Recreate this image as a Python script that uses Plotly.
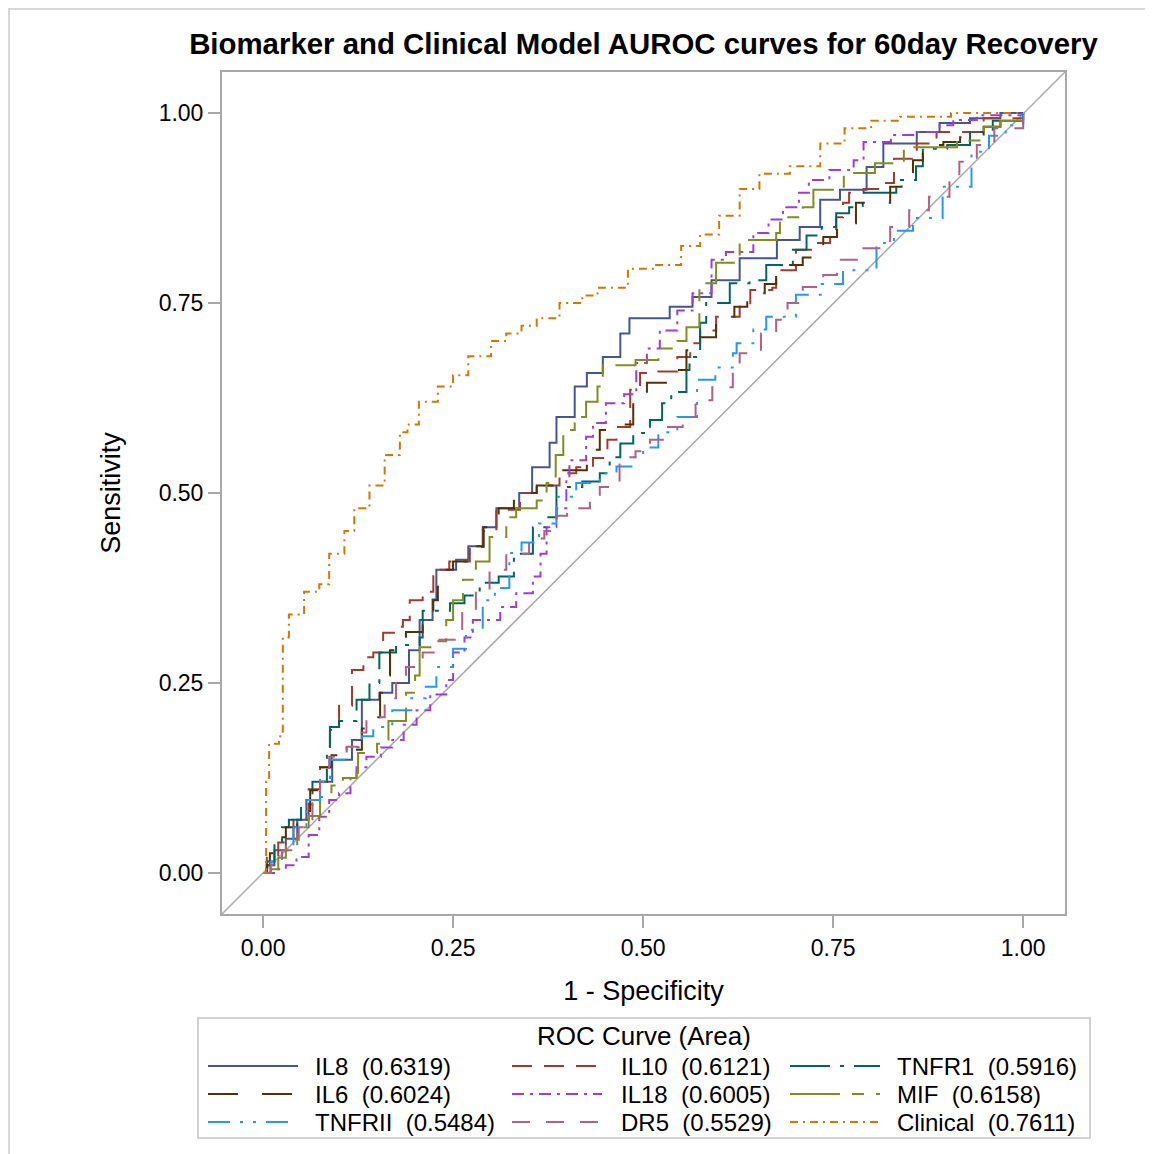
import plotly.graph_objects as go

# ROC curve vertices (1 - specificity, sensitivity)
il8_x = [0, 0.005, 0.015, 0.03, 0.045, 0.057, 0.075, 0.091, 0.117, 0.13, 0.153, 0.17, 0.192, 0.206, 0.223, 0.228,
         0.254, 0.27, 0.289, 0.307, 0.337, 0.354, 0.377, 0.386, 0.41, 0.426, 0.447, 0.47, 0.482, 0.535, 0.565, 0.59,
         0.627, 0.676, 0.706, 0.733, 0.759, 0.794, 0.816, 0.86, 0.89, 0.93, 0.97, 1]
il8_y = [0, 0.01, 0.03, 0.045, 0.07, 0.096, 0.12, 0.149, 0.175, 0.228, 0.237, 0.25, 0.293, 0.333, 0.36, 0.399,
         0.412, 0.43, 0.455, 0.48, 0.5, 0.534, 0.566, 0.6, 0.64, 0.658, 0.679, 0.71, 0.73, 0.745, 0.758, 0.78,
         0.809, 0.833, 0.85, 0.886, 0.899, 0.929, 0.96, 0.975, 0.987, 0.993, 1.0, 1]

il10_x = [0, 0.005, 0.02, 0.04, 0.06, 0.075, 0.088, 0.1, 0.117, 0.132, 0.145, 0.158, 0.18, 0.184, 0.193, 0.21,
          0.224, 0.245, 0.272, 0.29, 0.307, 0.338, 0.36, 0.39, 0.412, 0.434, 0.453, 0.465, 0.483, 0.496, 0.52,
          0.545, 0.562, 0.575, 0.596, 0.627, 0.641, 0.67, 0.675, 0.701, 0.724, 0.746, 0.754, 0.763, 0.771, 0.79,
          0.816, 0.83, 0.86, 0.886, 0.948, 1]
il10_y = [0, 0.02, 0.04, 0.07, 0.11, 0.139, 0.188, 0.22, 0.267, 0.284, 0.29, 0.316, 0.324, 0.333, 0.359, 0.37,
          0.399, 0.41, 0.429, 0.45, 0.478, 0.5, 0.51, 0.526, 0.534, 0.546, 0.57, 0.587, 0.636, 0.658, 0.66,
          0.679, 0.697, 0.714, 0.732, 0.745, 0.767, 0.77, 0.793, 0.82, 0.829, 0.843, 0.863, 0.882, 0.895, 0.9,
          0.908, 0.94, 0.96, 0.975, 0.993, 1]

tnfr1_x = [0, 0.005, 0.015, 0.025, 0.034, 0.05, 0.065, 0.084, 0.088, 0.1, 0.123, 0.14, 0.153, 0.175, 0.206, 0.21,
           0.246, 0.265, 0.285, 0.31, 0.33, 0.355, 0.373, 0.386, 0.42, 0.443, 0.456, 0.47, 0.487, 0.509, 0.525,
           0.537, 0.557, 0.561, 0.575, 0.583, 0.614, 0.64, 0.662, 0.697, 0.715, 0.735, 0.754, 0.771, 0.789, 0.833,
           0.859, 0.868, 0.9, 0.93, 0.96, 1]
tnfr1_y = [0, 0.015, 0.04, 0.06, 0.07, 0.09, 0.12, 0.166, 0.192, 0.2, 0.228, 0.25, 0.29, 0.3, 0.31, 0.345,
           0.355, 0.365, 0.382, 0.39, 0.42, 0.455, 0.468, 0.508, 0.515, 0.526, 0.547, 0.565, 0.579, 0.596, 0.618,
           0.633, 0.662, 0.679, 0.724, 0.75, 0.776, 0.78, 0.8, 0.82, 0.839, 0.85, 0.868, 0.876, 0.895, 0.912,
           0.93, 0.953, 0.958, 0.975, 0.99, 1]

il6_x = [0, 0.005, 0.009, 0.018, 0.03, 0.045, 0.062, 0.075, 0.09, 0.11, 0.13, 0.145, 0.154, 0.163, 0.167, 0.188,
         0.21, 0.224, 0.23, 0.25, 0.27, 0.29, 0.31, 0.33, 0.36, 0.395, 0.426, 0.443, 0.47, 0.487, 0.505, 0.53,
         0.543, 0.557, 0.562, 0.596, 0.62, 0.637, 0.66, 0.675, 0.71, 0.737, 0.755, 0.78, 0.825, 0.84, 0.855,
         0.868, 0.895, 0.917, 0.948, 0.97, 1]
il6_y = [0, 0.01, 0.026, 0.047, 0.06, 0.074, 0.109, 0.139, 0.155, 0.162, 0.19, 0.205, 0.237, 0.26, 0.293, 0.317,
         0.33, 0.359, 0.399, 0.41, 0.43, 0.455, 0.48, 0.5, 0.51, 0.53, 0.557, 0.583, 0.59, 0.622, 0.645, 0.653,
         0.662, 0.688, 0.705, 0.732, 0.745, 0.763, 0.775, 0.8, 0.81, 0.837, 0.855, 0.882, 0.903, 0.915, 0.938,
         0.958, 0.962, 0.968, 0.982, 0.99, 1]

il18_x = [0, 0.02, 0.03, 0.044, 0.06, 0.074, 0.087, 0.1, 0.115, 0.123, 0.136, 0.155, 0.17, 0.185, 0.202, 0.22,
          0.241, 0.25, 0.265, 0.276, 0.312, 0.333, 0.355, 0.365, 0.373, 0.386, 0.399, 0.403, 0.425, 0.434, 0.451,
          0.475, 0.491, 0.505, 0.522, 0.545, 0.565, 0.59, 0.609, 0.645, 0.665, 0.684, 0.705, 0.718, 0.745, 0.777,
          0.79, 0.826, 0.86, 0.89, 0.908, 0.939, 1]
il18_y = [0, 0.005, 0.01, 0.021, 0.05, 0.074, 0.096, 0.105, 0.125, 0.139, 0.153, 0.165, 0.175, 0.195, 0.214, 0.235,
          0.254, 0.29, 0.31, 0.333, 0.35, 0.368, 0.39, 0.42, 0.455, 0.48, 0.52, 0.543, 0.574, 0.592, 0.618,
          0.63, 0.671, 0.69, 0.714, 0.74, 0.763, 0.807, 0.817, 0.842, 0.86, 0.876, 0.895, 0.912, 0.925, 0.938,
          0.962, 0.971, 0.975, 0.984, 0.991, 0.997, 1]

mif_x = [0, 0.01, 0.02, 0.03, 0.045, 0.06, 0.075, 0.09, 0.105, 0.123, 0.125, 0.15, 0.165, 0.188, 0.2, 0.206,
         0.225, 0.241, 0.25, 0.263, 0.28, 0.298, 0.32, 0.333, 0.36, 0.373, 0.385, 0.395, 0.41, 0.425, 0.44, 0.447,
         0.49, 0.52, 0.545, 0.557, 0.574, 0.596, 0.627, 0.675, 0.68, 0.71, 0.724, 0.764, 0.805, 0.843, 0.913,
         0.948, 0.97, 1]
mif_y = [0, 0.005, 0.02, 0.035, 0.06, 0.075, 0.1, 0.115, 0.125, 0.132, 0.158, 0.17, 0.2, 0.237, 0.26, 0.297,
         0.305, 0.333, 0.359, 0.386, 0.41, 0.442, 0.468, 0.48, 0.49, 0.513, 0.55, 0.583, 0.6, 0.62, 0.64, 0.668,
         0.675, 0.69, 0.7, 0.718, 0.776, 0.803, 0.833, 0.842, 0.863, 0.876, 0.899, 0.921, 0.934, 0.955, 0.964,
         0.982, 0.99, 1]

tnfrii_x = [0, 0.01, 0.025, 0.04, 0.057, 0.075, 0.088, 0.11, 0.13, 0.145, 0.17, 0.195, 0.214, 0.228, 0.25, 0.267,
            0.289, 0.305, 0.324, 0.34, 0.363, 0.386, 0.412, 0.443, 0.465, 0.487, 0.5, 0.52, 0.545, 0.571, 0.595,
            0.618, 0.623, 0.645, 0.662, 0.701, 0.735, 0.763, 0.807, 0.83, 0.855, 0.894, 0.932, 0.955, 0.977, 1]
tnfrii_y = [0, 0.015, 0.03, 0.06, 0.096, 0.125, 0.149, 0.165, 0.18, 0.192, 0.214, 0.23, 0.245, 0.271, 0.295, 0.32,
            0.359, 0.375, 0.421, 0.435, 0.46, 0.495, 0.513, 0.526, 0.535, 0.547, 0.56, 0.58, 0.6, 0.649, 0.665,
            0.684, 0.697, 0.715, 0.732, 0.761, 0.775, 0.793, 0.829, 0.845, 0.862, 0.903, 0.949, 0.97, 0.984, 1]

dr5_x = [0, 0.01, 0.025, 0.047, 0.065, 0.075, 0.087, 0.11, 0.125, 0.136, 0.16, 0.175, 0.188, 0.21, 0.232, 0.262,
         0.28, 0.298, 0.32, 0.35, 0.37, 0.386, 0.4, 0.43, 0.443, 0.469, 0.49, 0.509, 0.526, 0.552, 0.569, 0.591,
         0.618, 0.627, 0.655, 0.675, 0.69, 0.71, 0.737, 0.755, 0.783, 0.825, 0.85, 0.876, 0.903, 0.916, 0.939,
         0.962, 1]
dr5_y = [0, 0.01, 0.03, 0.06, 0.096, 0.12, 0.153, 0.166, 0.185, 0.205, 0.23, 0.25, 0.271, 0.29, 0.307, 0.342,
         0.37, 0.399, 0.42, 0.44, 0.45, 0.47, 0.48, 0.49, 0.508, 0.547, 0.555, 0.57, 0.587, 0.6, 0.622, 0.639,
         0.666, 0.684, 0.71, 0.728, 0.75, 0.771, 0.787, 0.807, 0.822, 0.85, 0.872, 0.89, 0.912, 0.936, 0.958,
         0.98, 1]

clin_x = [0, 0.004, 0.008, 0.021, 0.026, 0.034, 0.054, 0.074, 0.087, 0.107, 0.12, 0.14, 0.16, 0.18, 0.19, 0.205,
          0.23, 0.25, 0.27, 0.3, 0.32, 0.34, 0.36, 0.39, 0.42, 0.44, 0.48, 0.515, 0.55, 0.575, 0.6, 0.627, 0.653,
          0.693, 0.733, 0.765, 0.8, 0.838, 0.905, 1]
clin_y = [0, 0.12, 0.17, 0.18, 0.31, 0.34, 0.37, 0.38, 0.42, 0.45, 0.48, 0.51, 0.55, 0.58, 0.59, 0.62,
          0.64, 0.655, 0.68, 0.70, 0.71, 0.72, 0.73, 0.75, 0.76, 0.77, 0.795, 0.80, 0.825, 0.84, 0.865, 0.90, 0.92,
          0.93, 0.96, 0.98, 0.99, 0.995, 1.0, 1]

names = ["IL8", "IL10", "TNFR1", "IL6", "IL18", "MIF", "TNFRII", "DR5", "Clinical"]
areas = ["0.6319", "0.6121", "0.5916", "0.6024", "0.6005", "0.6158", "0.5484", "0.5529", "0.7611"]
xs = [il8_x, il10_x, tnfr1_x, il6_x, il18_x, mif_x, tnfrii_x, dr5_x, clin_x]
ys = [il8_y, il10_y, tnfr1_y, il6_y, il18_y, mif_y, tnfrii_y, dr5_y, clin_y]

# SAS HTMLBlue GraphData colours / line patterns
colors = ["#445694", "#A23A2E", "#01665E", "#543005", "#9D3CDB", "#7F8E1F", "#2597FA", "#B26084", "#D17800"]
dashes = ["solid", "20px,12px", "40px,10px,4px,10px", "30px,24px", "12px,6px,3px,6px",
          "50px,12px,12px,12px", "22px,10px,3px,10px,3px,10px", "18px,16px", "8px,5px,2px,5px"]

rng_x = [-0.054, 1.055]
rng_y = [-0.054, 1.054]
font = "Liberation Sans, Arial, sans-serif"

# page has an 8px body margin: positions below are screen pixels, shifted by OFF
OFF = 8
W, H = 1153, 1154
L, R, T, B = 222 - OFF, 1065 - OFF, 72 - OFF, 914 - OFF
def px(v):
    return (v - OFF - L) / (R - L)
def py(v):
    return (B - (v - OFF)) / (B - T)

fig = go.Figure()
fig.add_trace(go.Scatter(x=rng_x, y=rng_y, mode="lines", line=dict(color="#A8A8A8", width=1.5),
                         showlegend=False, hoverinfo="skip"))
for n, a, x, y, c, d in zip(names, areas, xs, ys, colors, dashes):
    fig.add_trace(go.Scatter(x=x, y=y, mode="lines", line_shape="hv", name=n, showlegend=False,
                             line=dict(color=c, width=2, dash=d)))

axis_common = dict(showgrid=False, zeroline=False, showline=True, linecolor="#A8A8A8", linewidth=2,
                   mirror=True, ticks="outside", ticklen=12, tickwidth=1.5, tickcolor="#A8A8A8",
                   tickvals=[0, 0.25, 0.5, 0.75, 1], tickformat=".2f",
                   tickfont=dict(family=font, size=23, color="#000"))

# outer graph border and SAS style legend box with 3 columns
shapes = [dict(type="rect", xref="paper", yref="paper", x0=px(9), x1=px(1170), y0=py(1170), y1=py(9),
               line=dict(color="#D8D8D8", width=2), layer="below"),
          dict(type="rect", xref="paper", yref="paper", x0=px(198), x1=px(1090), y0=py(1138), y1=py(1018),
               line=dict(color="#D0D0D0", width=2))]
annotations = [dict(text="ROC Curve (Area)", xref="paper", yref="paper", x=px(644), y=py(1036),
                    xanchor="center", yanchor="middle", showarrow=False, font=dict(family=font, size=26))]
col_line = [208, 512, 790]
col_text = [313, 619, 895]
row_y = [1066, 1094, 1122]
for i, (n, a, c, d) in enumerate(zip(names, areas, colors, dashes)):
    r, k = divmod(i, 3)
    shapes.append(dict(type="line", xref="paper", yref="paper", x0=px(col_line[k]), x1=px(col_line[k] + 90),
                       y0=py(row_y[r]), y1=py(row_y[r]), line=dict(color=c, width=2, dash=d)))
    annotations.append(dict(text=n + "\u00a0\u00a0(" + a + ")", xref="paper", yref="paper",
                            x=px(col_text[k]), y=py(row_y[r]), xanchor="left", yanchor="middle",
                            showarrow=False, font=dict(family=font, size=24)))

fig.update_layout(
    width=W, height=H,
    margin=dict(l=L, r=W - R, t=T, b=H - B, autoexpand=False),
    paper_bgcolor="white", plot_bgcolor="white",
    font=dict(family=font, color="#000"),
    showlegend=False,
    title=dict(text="Biomarker and Clinical Model AUROC curves for 60day Recovery",
               x=(643.5 - OFF) / W, xanchor="center", y=1 - (44 - OFF) / H, yanchor="middle",
               font=dict(family=font, size=29.4, weight="bold", color="#000")),
    xaxis=dict(range=rng_x, title=dict(text="1 - Specificity", font=dict(size=27), standoff=22), **axis_common),
    yaxis=dict(range=rng_y, title=dict(text="Sensitivity", font=dict(size=27), standoff=30), **axis_common),
    shapes=shapes,
    annotations=annotations,
)

fig.write_html("out.html")
